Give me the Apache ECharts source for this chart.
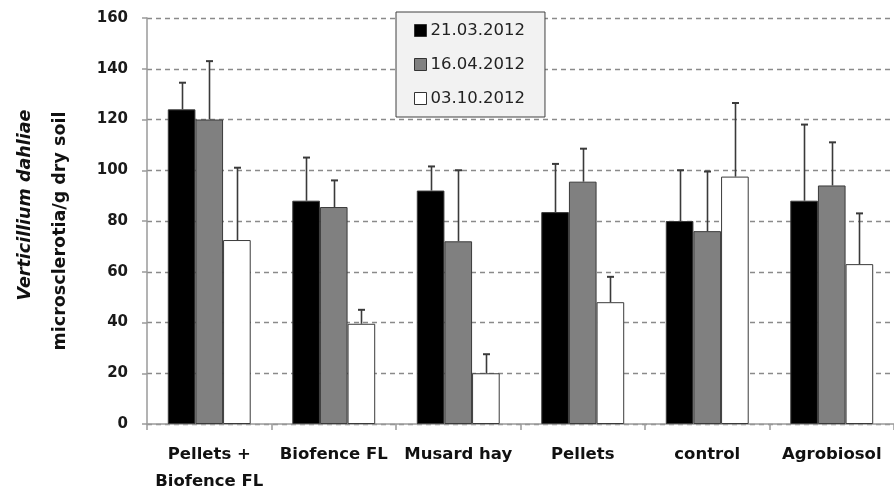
<!DOCTYPE html>
<html><head><meta charset="utf-8">
<script src="https://cdn.jsdelivr.net/npm/echarts@6/dist/echarts.min.js"></script>
<style>html,body{margin:0;padding:0;background:#fff}#c{width:894px;height:495px}</style>
</head><body><div id="c"></div>
<script>
const categories = ['Pellets +\nBiofence FL', 'Biofence FL', 'Musard hay', 'Pellets', 'control', 'Agrobiosol'];
const seriesNames = ['21.03.2012', '16.04.2012', '03.10.2012'];
const values1 = [124, 88, 92, 83.5, 80, 88];
const errors1 = [10.5, 17, 9.5, 19, 20, 30];
const values2 = [120, 85.5, 72, 95.5, 76, 94];
const errors2 = [23, 10.5, 28, 13, 23.5, 17];
const values3 = [72.5, 39.5, 20, 48, 97.5, 63];
const errors3 = [28.5, 5.5, 7.5, 10, 29, 20];
const yTicks = { min: 0, max: 160, interval: 20 };
const yTitleLine1 = 'Verticillium dahliae';
const yTitleLine2 = 'microsclerotia/g dry soil';

const FONT = '"DejaVu Sans", "Liberation Sans", sans-serif';
const fills = ['#000000', '#808080', '#ffffff'];
const BAR_FRAC = 0.222;
const allValues = [values1, values2, values3];
const allErrors = [errors1, errors2, errors3];

const chart = echarts.init(document.getElementById('c'), null, { renderer: 'canvas' });

const series = [];
seriesNames.forEach((name, k) => {
  series.push({
    name: name, type: 'bar', data: allValues[k],
    barWidth: (BAR_FRAC * 100) + '%', barGap: '0%',
    itemStyle: { color: fills[k], borderColor: '#3a3a3a', borderWidth: 1 },
    emphasis: { disabled: true }, z: 2
  });
});
seriesNames.forEach((name, k) => {
  series.push({
    type: 'custom', name: name + ' err', z: 3, silent: true,
    data: allValues[k].map((v, i) => [i, v, allErrors[k][i]]),
    renderItem: function (params, api) {
      const i = api.value(0), v = api.value(1), e = api.value(2);
      const bw = api.size([1, 0])[0] * BAR_FRAC;
      const base = api.coord([i, v]);
      const top = api.coord([i, v + e]);
      const x = Math.round(base[0] + (k - 1) * bw) + 0.5;
      const st = { stroke: '#3a3a3a', lineWidth: 1.6 };
      return { type: 'group', children: [
        { type: 'line', shape: { x1: x, y1: base[1], x2: x, y2: top[1] }, style: st },
        { type: 'line', shape: { x1: x - 3.5, y1: top[1], x2: x + 3.5, y2: top[1] }, style: { stroke: '#3a3a3a', lineWidth: 2 } }
      ] };
    }
  });
});

chart.setOption({
  animation: false,
  backgroundColor: '#ffffff',
  grid: { left: 147, right: -9, top: 18, bottom: 70, containLabel: false },
  graphic: [
    { type: 'text', x: 25, y: 205, rotation: Math.PI / 2, silent: true,
      style: { text: yTitleLine1, fontFamily: FONT, fontStyle: 'italic', fontWeight: 'bold', fontSize: 17.5, fill: '#111', align: 'center', verticalAlign: 'middle' } },
    { type: 'text', x: 60, y: 231, rotation: Math.PI / 2, silent: true,
      style: { text: yTitleLine2, fontFamily: FONT, fontWeight: 'bold', fontSize: 17.5, fill: '#111', align: 'center', verticalAlign: 'middle' } }
  ],
  legend: {
    data: seriesNames, orient: 'vertical', left: 396, top: 12,
    backgroundColor: '#f2f2f2', borderColor: '#404040', borderWidth: 1,
    padding: [9, 20, 9, 18], itemWidth: 12, itemHeight: 12, itemGap: 15,
    icon: 'rect', selectedMode: false,
    textStyle: { fontFamily: FONT, fontSize: 16.5, color: '#222', lineHeight: 19, padding: [0, 0, 0, -1] },
    itemStyle: { borderColor: '#333', borderWidth: 1 }
  },
  xAxis: {
    type: 'category', data: categories,
    axisLine: { lineStyle: { color: '#9a9a9a', width: 1.5 } },
    axisTick: { show: true, alignWithLabel: false, length: 6, lineStyle: { color: '#9a9a9a', width: 1.5 } },
    axisLabel: { interval: 0, margin: 17, fontFamily: FONT, fontWeight: 'bold', fontSize: 16.5, color: '#111', lineHeight: 27 },
    splitLine: { show: false }
  },
  yAxis: {
    type: 'value', min: yTicks.min, max: yTicks.max, interval: yTicks.interval,
    axisLine: { show: true, lineStyle: { color: '#9a9a9a', width: 1.5 } },
    axisTick: { show: true, length: 5, lineStyle: { color: '#9a9a9a', width: 1.5 } },
    axisLabel: { margin: 19, fontFamily: FONT, fontWeight: 'bold', fontSize: 15, color: '#1a1a1a' },
    splitLine: { show: true, lineStyle: { color: '#8a8a8a', type: [5, 4], width: 1.3 } }
  },
  series: series
});
</script></body></html>
